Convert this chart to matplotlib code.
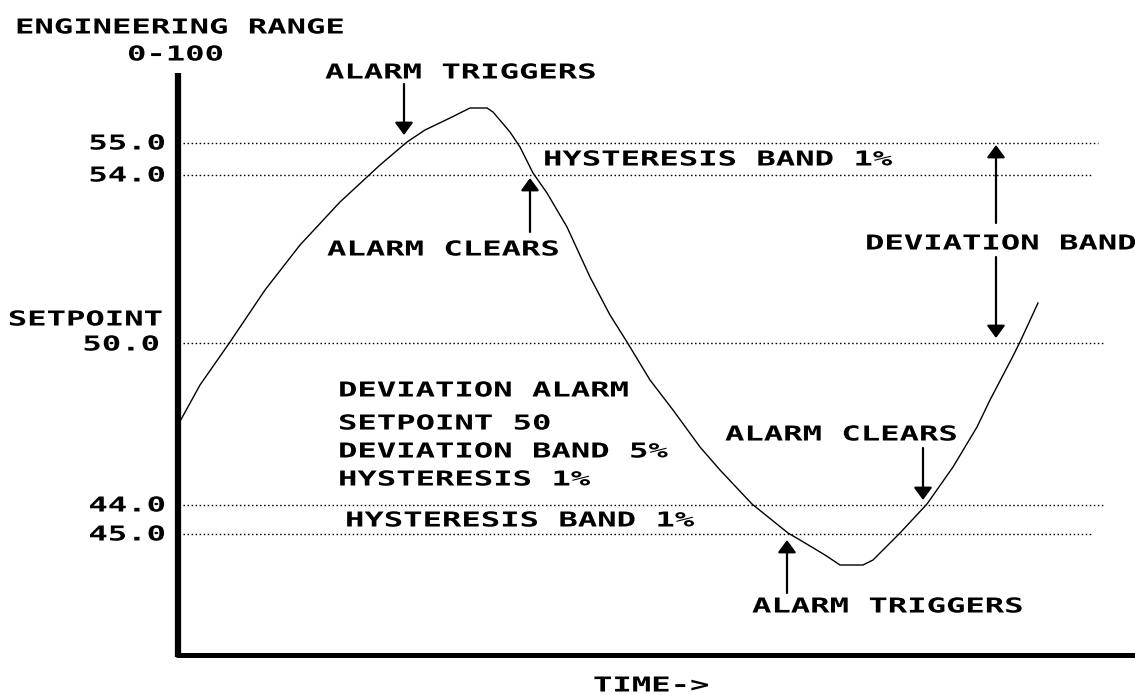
import matplotlib
matplotlib.use("Agg")
import matplotlib.pyplot as plt
from matplotlib import patheffects
from matplotlib.transforms import Affine2D

# Alarm levels drawn as dotted lines (label, row on the sheet, where the dots stop)
level_labels = ["55.0", "54.0", "50.0", "44.0", "45.0"]
level_rows = [142, 174, 342, 504, 533]
level_ends = [1098, 1093, 1103, 1103, 1093]

# Process value against time, traced point by point
curve_t = [178, 200, 230, 265, 300, 340, 380, 407, 425, 450, 470, 487, 493,
           510, 520, 533, 547, 567, 590, 610, 627, 650, 673, 700, 720, 752,
           788, 800, 825, 840, 863, 873, 900, 927, 953, 977, 990, 1012, 1020,
           1038]
curve_v = [425, 385, 342, 290, 245, 202, 165, 142, 130, 118, 108, 108, 112,
           132, 147, 173, 193, 227, 277, 315, 342, 380, 410, 447, 470, 504,
           533, 540, 555, 565, 565, 560, 533, 504, 467, 427, 400, 358, 342,
           303]

# Notes written on the sheet
info_lines = ["DEVIATION ALARM", "SETPOINT 50", "DEVIATION BAND 5%", "HYSTERESIS 1%"]

W, H = 1135, 695
CHAR = 19.4          # width of one character cell of the old terminal font
FS = 14.8            # font size giving 15 px capitals at 100 dpi
SX = CHAR / (0.602 * FS * 100 / 72)


class StretchX(patheffects.AbstractPathEffect):
    """Widen glyphs horizontally, like a blocky terminal font."""
    def __init__(self, sx):
        super().__init__()
        self.sx = sx

    def draw_path(self, renderer, gc, tpath, affine, rgbFace=None):
        renderer.draw_path(gc, tpath, Affine2D().scale(self.sx, 1) + affine, rgbFace)


fig = plt.figure(figsize=(W / 100, H / 100), dpi=100)
ax = fig.add_axes([0, 0, 1, 1])
ax.set_xlim(0, W)
ax.set_ylim(H, 0)
ax.axis("off")


def label(x, yc, s, right=False):
    # x is the left edge (or right edge), yc the middle of the capitals
    if right:
        x = x - len(s) * CHAR
    ax.text(x, yc + 7.5, s, ha="left", va="baseline", fontsize=FS,
            family="DejaVu Sans Mono", weight="bold", color="black",
            path_effects=[StretchX(SX)])


def arrow(x, y0, y1):
    ax.annotate("", xy=(x, y1), xytext=(x, y0),
                arrowprops=dict(arrowstyle="-|>,head_width=0.55,head_length=0.75",
                                mutation_scale=10, lw=1.6, color="black",
                                shrinkA=0, shrinkB=0))


# Axes drawn as heavy strokes
ax.plot([178, 178], [73, 657], color="black", lw=4.5, solid_capstyle="butt")
ax.plot([176, W], [655, 655], color="black", lw=3.6, solid_capstyle="butt")

# Dotted level lines
for row, end in zip(level_rows, level_ends):
    ax.plot([183, end], [row + 0.5, row + 0.5], color="black", lw=1.0,
            linestyle=(0, (1.1, 1.8)))

# Process curve
ax.plot(curve_t, curve_v, color="black", lw=1.0)

# Y axis labels
label(15, 26, "ENGINEERING RANGE")
label(127, 53, "0-100")
for txt, row in zip(level_labels, level_rows):
    if txt == "50.0":
        label(163, row - 24, "SETPOINT", right=True)
        label(160, row + 1, txt, right=True)
    else:
        label(166, row, txt, right=True)

# Upper alarm
label(325, 71, "ALARM TRIGGERS")
arrow(404, 84, 135)
label(543, 158, "HYSTERESIS BAND 1%")
label(327, 248, "ALARM CLEARS")
arrow(530, 232, 178)

# Deviation band
label(865, 242, "DEVIATION BAND")
arrow(996, 223, 145)
arrow(996, 257, 338)

# Settings block
for txt, yc in zip(info_lines, [389, 422, 450, 478]):
    label(338, yc, txt)

# Lower alarm
label(345, 519, "HYSTERESIS BAND 1%")
label(725, 433, "ALARM CLEARS")
arrow(923, 448, 500)
label(752, 605, "ALARM TRIGGERS")
arrow(787, 593, 540)

label(593, 684, "TIME->")

fig.savefig("out.png", dpi=100)
